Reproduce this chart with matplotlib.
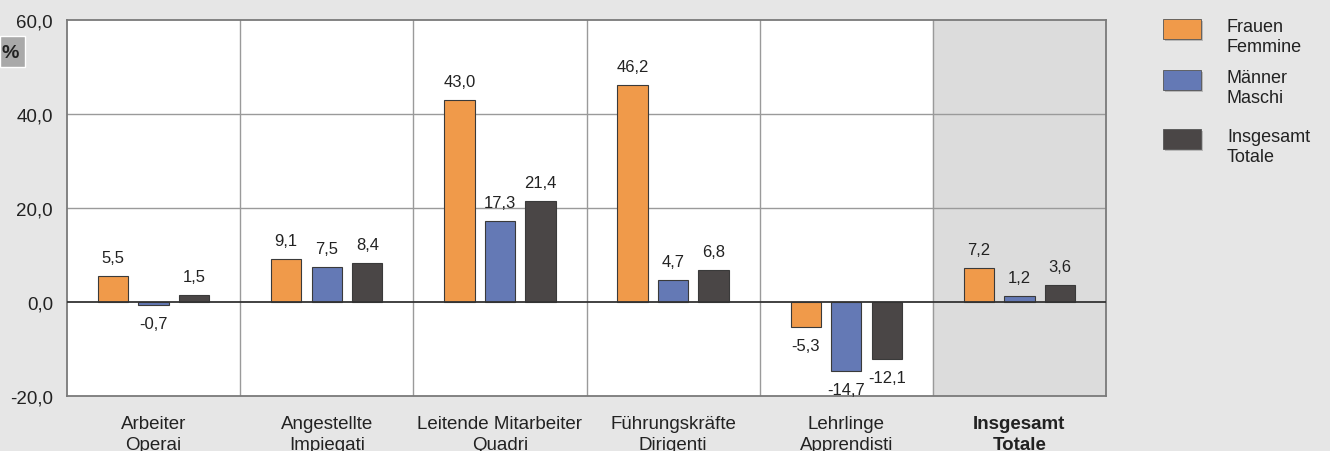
import numpy as np
import matplotlib.pyplot as plt
from matplotlib.patches import Rectangle

plt.rcParams['font.family'] = ['Liberation Sans', 'DejaVu Sans']

categories = ['Arbeiter\nOperai', 'Angestellte\nImpiegati', 'Leitende Mitarbeiter\nQuadri',
              'Führungskräfte\nDirigenti', 'Lehrlinge\nApprendisti', 'Insgesamt\nTotale']
frauen = [5.5, 9.1, 43.0, 46.2, -5.3, 7.2]
maenner = [-0.7, 7.5, 17.3, 4.7, -14.7, 1.2]
insgesamt = [1.5, 8.4, 21.4, 6.8, -12.1, 3.6]

series = [('Frauen\nFemmine', frauen, '#f09a4a'),
          ('Männer\nMaschi', maenner, '#6479b5'),
          ('Insgesamt\nTotale', insgesamt, '#4a4646')]

bg = '#e6e6e6'
fig = plt.figure(figsize=(13.3, 4.52), dpi=100, facecolor=bg)
ax = fig.add_axes([67 / 1330, 55 / 452, 1039 / 1330, 376 / 452])
ax.set_facecolor('white')

x = np.arange(len(categories))
step = 0.234
width = 0.175

# shaded total column
ax.axvspan(len(categories) - 1.5, len(categories) - 0.5, color='#dcdcdc', zorder=0)

for i, (name, vals, col) in enumerate(series):
    pos = x + (i - 1) * step
    ax.bar(pos, vals, width, color=col, edgecolor='#3a3a3a', linewidth=0.8, zorder=3)
    for px, v in zip(pos, vals):
        off = 11 if v >= 0 else -11
        ax.annotate(f'{v:.1f}'.replace('.', ','), (px, v), xytext=(0, off),
                    textcoords='offset pixels', ha='center',
                    va='bottom' if v >= 0 else 'top', fontsize=12, color='#222222',
                    zorder=4)

ax.set_xlim(-0.5, len(categories) - 0.5)
ax.set_ylim(-20, 60)
ax.set_yticks([-20, 0, 20, 40, 60])
ax.set_yticklabels([f'{t:.1f}'.replace('.', ',') for t in [-20, 0, 20, 40, 60]])
ax.set_xticks(x)
ax.set_xticklabels(categories, linespacing=1.25)
ax.get_xticklabels()[-1].set_fontweight('bold')
ax.tick_params(axis='both', length=0, labelsize=13.5, colors='#222222')
ax.tick_params(axis='x', pad=14)
ax.tick_params(axis='y', pad=10)

for yv in [20, 40]:
    ax.axhline(yv, color='#9a9a9a', linewidth=1, zorder=1)
for xv in x[:-1] + 0.5:
    ax.axvline(xv, color='#9a9a9a', linewidth=1, zorder=1)
ax.axhline(0, color='#333333', linewidth=1.3, zorder=5)
for s in ax.spines.values():
    s.set_color('#7a7a7a')
    s.set_linewidth(1.3)

# percent tag
fig.add_artist(Rectangle((0, 1 - 68 / 452), 25 / 1330, 31 / 452, transform=fig.transFigure,
                         facecolor='#a9a9a9', edgecolor='white', linewidth=1))
fig.text(2 / 1330, 1 - 53 / 452, '%', fontsize=14, fontweight='bold', va='center', color='#222222')

# legend
tops = [20, 71, 130]
for (name, vals, col), t in zip(series, tops):
    fig.add_artist(Rectangle((1165 / 1330, 1 - (t + 22) / 452), 38 / 1330, 20 / 452,
                             transform=fig.transFigure, facecolor='#9a9a9a',
                             edgecolor='none', alpha=0.6))
    fig.add_artist(Rectangle((1163 / 1330, 1 - (t + 20) / 452), 38 / 1330, 20 / 452,
                             transform=fig.transFigure, facecolor=col,
                             edgecolor='#555555', linewidth=0.6))
    fig.text(1227 / 1330, 1 - (t - 1) / 452, name, fontsize=13, va='top',
             color='#222222', linespacing=1.2)

fig.savefig('out.png', dpi=100, facecolor=bg)
